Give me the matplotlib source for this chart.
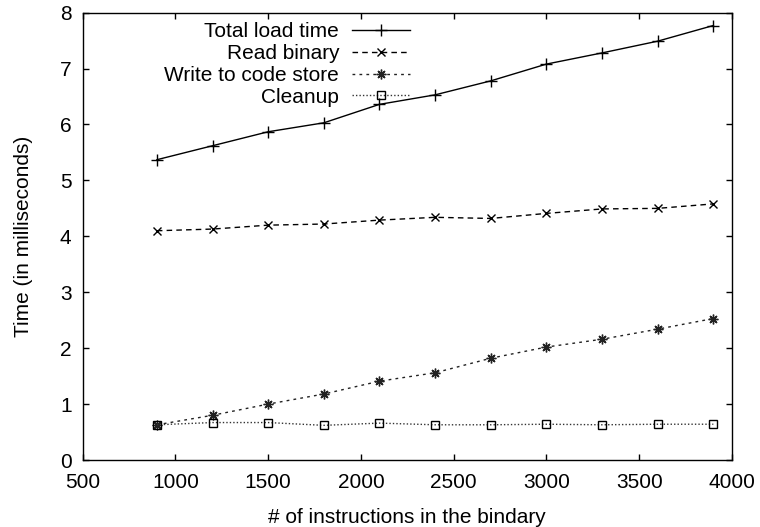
import matplotlib
matplotlib.use("Agg")
import matplotlib.pyplot as plt

# binary size (number of instructions)
instructions = [900, 1200, 1500, 1800, 2100, 2400, 2700, 3000, 3300, 3600, 3900]

# times in milliseconds
total_load = [5.37, 5.62, 5.87, 6.03, 6.36, 6.53, 6.78, 7.08, 7.28, 7.49, 7.77]
read_binary = [4.10, 4.13, 4.20, 4.22, 4.29, 4.34, 4.32, 4.41, 4.49, 4.50, 4.58]
write_store = [0.63, 0.80, 1.00, 1.18, 1.41, 1.56, 1.82, 2.02, 2.16, 2.34, 2.53]
cleanup = [0.63, 0.67, 0.67, 0.62, 0.66, 0.63, 0.63, 0.64, 0.63, 0.64, 0.64]

xticks = [500, 1000, 1500, 2000, 2500, 3000, 3500, 4000]
yticks = [0, 1, 2, 3, 4, 5, 6, 7, 8]

plt.rcParams['font.family'] = ['Liberation Sans', 'DejaVu Sans']
plt.rcParams['font.size'] = 15

fig = plt.figure(figsize=(7.6, 5.27), dpi=100)
ax = fig.add_axes([0.1088, 0.1271, 0.963 - 0.1088, 0.976 - 0.1271])

ax.plot(instructions, total_load, color='black', lw=1.0, ls='-',
        marker='+', ms=8, mew=1.0, label='Total load time')
ax.plot(instructions, read_binary, color='black', lw=1.0, ls=(0, (4, 3)),
        marker='x', ms=6, mew=1.0, label='Read binary')
ax.plot(instructions, write_store, color='#222222', lw=1.0, ls=(0, (2, 3)),
        marker=(8, 2, 0), ms=7, mew=1.0, label='Write to code store')
ax.plot(instructions, cleanup, color='#333333', lw=1.0, ls=(0, (1, 1.5)),
        marker='s', ms=6, mew=1.0, mfc='none', mec='black', label='Cleanup')

ax.set_xlim(500, 4000)
ax.set_ylim(0, 8)
ax.set_xticks(xticks)
ax.set_yticks(yticks)
ax.tick_params(direction='in', length=4.3, width=1.0, top=True, right=True)
ax.tick_params(axis='x', pad=9)
ax.tick_params(axis='y', pad=8)
for s in ax.spines.values():
    s.set_linewidth(1.0)

ax.set_xlabel('# of instructions in the bindary', labelpad=12)
ax.set_ylabel('Time (in milliseconds)', labelpad=19)

ax.legend(loc='upper right', bbox_to_anchor=(410 / 760, 1 - 22 / 527),
          bbox_transform=fig.transFigure, frameon=False, markerfirst=False,
          handlelength=2.8, handletextpad=0.6, labelspacing=0.14,
          borderpad=0, borderaxespad=0)

fig.savefig('out.png', dpi=100)
